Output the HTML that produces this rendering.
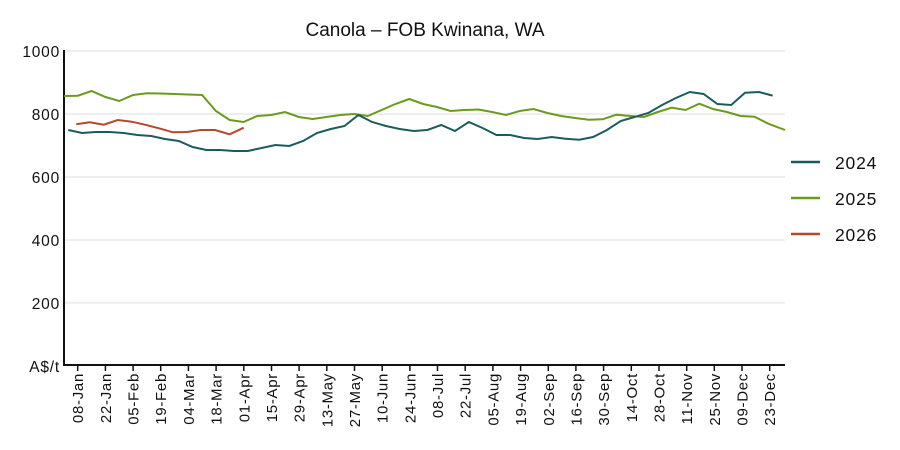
<!DOCTYPE html><html><head><meta charset="utf-8"><style>body{margin:0;background:#fff}svg{display:block;font-family:"Liberation Sans","DejaVu Sans",sans-serif}</style></head><body>
<svg width="900" height="450" viewBox="0 0 900 450" xmlns="http://www.w3.org/2000/svg">
<text x="425" y="36" font-size="19" text-anchor="middle" fill="#111">Canola – FOB Kwinana, WA</text>
<g stroke="#eee" stroke-width="2"><line x1="64" x2="785" y1="51" y2="51"/><line x1="64" x2="785" y1="114" y2="114"/><line x1="64" x2="785" y1="177" y2="177"/><line x1="64" x2="785" y1="240" y2="240"/><line x1="64" x2="785" y1="302.8" y2="302.8"/></g>
<g font-size="15.5" text-anchor="end" fill="#111" letter-spacing="0.8"><text x="60" y="57">1000</text><text x="60" y="120">800</text><text x="60" y="183">600</text><text x="60" y="246">400</text><text x="60" y="309">200</text><text x="60" y="372">A$/t</text></g>
<g stroke="#111" stroke-width="2" fill="none"><line x1="64" y1="50" x2="64" y2="366"/><line x1="63" y1="365" x2="785" y2="365"/></g>
<polyline fill="none" stroke="#6b9a1f" stroke-width="2" points="64,96 77.8,95.7 91.6,91 105.4,97 119.2,101 133.1,95 146.9,93.3 160.7,93.5 174.5,94 188.3,94.5 202.1,95 215.9,111 229.7,120 243.5,122 257.3,116 271.2,115 285,112 298.8,117 312.6,119 326.4,117 340.2,115 354,114 367.8,116 381.6,110 395.4,104 409.3,99 423.1,104 436.9,107 450.7,111 464.5,110 478.3,109.5 492.1,112 505.9,115 519.7,111 533.5,109 547.4,113 561.2,116 575,118 588.8,119.7 602.6,119.3 616.4,114.7 630.2,116 644,117 657.8,112 671.6,107.7 685.5,110 699.3,103.7 713.1,109 726.9,112 740.7,116 754.5,116.7 768.3,123.7 785,130"/>
<polyline fill="none" stroke="#1a5c5c" stroke-width="2" points="68.3,130 82.1,133 95.9,132 109.7,132 123.5,133 137.4,135 151.2,136 165,139 178.8,141 192.6,147 206.4,150 220.2,150 234,151 247.8,151 261.6,148 275.5,145 289.3,146 303.1,141 316.9,133 330.7,129 344.5,126 358.3,115 372.1,122 385.9,126 399.7,129 413.6,131 427.4,130 441.2,125 455,131 468.8,122 482.6,128 496.4,135 510.2,135 524,138 537.8,139 551.7,137 565.5,138.7 579.3,139.7 593.1,137 606.9,130 620.7,121 634.5,117 648.3,113 662.1,105 675.9,98 689.8,92 703.6,94 717.4,104 731.2,105 745,92.7 758.8,92 772.6,95.6"/>
<polyline fill="none" stroke="#b5482b" stroke-width="2" points="76.3,124.3 89.7,122.3 103.7,124.7 117.7,120 131.7,121.7 145,124.7 159,128.3 173,132.3 187,132 201,130 215,130 229.7,134.3 243.7,127.7"/>
<g stroke-width="2.5"><line x1="791" x2="820" y1="162" y2="162" stroke="#1a5c5c"/><line x1="791" x2="820" y1="198" y2="198" stroke="#6b9a1f"/><line x1="791" x2="820" y1="234" y2="234" stroke="#b5482b"/></g>
<g font-size="17.5" fill="#111" letter-spacing="0.8"><text x="835" y="169">2024</text><text x="835" y="205">2025</text><text x="835" y="241">2026</text></g>
<g stroke="#111" stroke-width="1.5">
<line x1="77.7" x2="77.7" y1="365" y2="371"/><line x1="105.4" x2="105.4" y1="365" y2="371"/><line x1="133.1" x2="133.1" y1="365" y2="371"/><line x1="160.7" x2="160.7" y1="365" y2="371"/><line x1="188.4" x2="188.4" y1="365" y2="371"/><line x1="216.1" x2="216.1" y1="365" y2="371"/><line x1="243.8" x2="243.8" y1="365" y2="371"/><line x1="271.5" x2="271.5" y1="365" y2="371"/><line x1="299.1" x2="299.1" y1="365" y2="371"/><line x1="326.8" x2="326.8" y1="365" y2="371"/><line x1="354.5" x2="354.5" y1="365" y2="371"/><line x1="382.2" x2="382.2" y1="365" y2="371"/><line x1="409.9" x2="409.9" y1="365" y2="371"/><line x1="437.5" x2="437.5" y1="365" y2="371"/><line x1="465.2" x2="465.2" y1="365" y2="371"/><line x1="492.9" x2="492.9" y1="365" y2="371"/><line x1="520.6" x2="520.6" y1="365" y2="371"/><line x1="548.3" x2="548.3" y1="365" y2="371"/><line x1="575.9" x2="575.9" y1="365" y2="371"/><line x1="603.6" x2="603.6" y1="365" y2="371"/><line x1="631.3" x2="631.3" y1="365" y2="371"/><line x1="659" x2="659" y1="365" y2="371"/><line x1="686.7" x2="686.7" y1="365" y2="371"/><line x1="714.3" x2="714.3" y1="365" y2="371"/><line x1="742" x2="742" y1="365" y2="371"/><line x1="769.7" x2="769.7" y1="365" y2="371"/>
</g>
<g font-size="15" fill="#111" text-anchor="end" letter-spacing="0.7">
<text transform="translate(83.2,373) rotate(-90)">08-Jan</text>
<text transform="translate(110.9,373) rotate(-90)">22-Jan</text>
<text transform="translate(138.6,373) rotate(-90)">05-Feb</text>
<text transform="translate(166.2,373) rotate(-90)">19-Feb</text>
<text transform="translate(193.9,373) rotate(-90)">04-Mar</text>
<text transform="translate(221.6,373) rotate(-90)">18-Mar</text>
<text transform="translate(249.3,373) rotate(-90)">01-Apr</text>
<text transform="translate(277,373) rotate(-90)">15-Apr</text>
<text transform="translate(304.6,373) rotate(-90)">29-Apr</text>
<text transform="translate(332.3,373) rotate(-90)">13-May</text>
<text transform="translate(360,373) rotate(-90)">27-May</text>
<text transform="translate(387.7,373) rotate(-90)">10-Jun</text>
<text transform="translate(415.4,373) rotate(-90)">24-Jun</text>
<text transform="translate(443,373) rotate(-90)">08-Jul</text>
<text transform="translate(470.7,373) rotate(-90)">22-Jul</text>
<text transform="translate(498.4,373) rotate(-90)">05-Aug</text>
<text transform="translate(526.1,373) rotate(-90)">19-Aug</text>
<text transform="translate(553.8,373) rotate(-90)">02-Sep</text>
<text transform="translate(581.4,373) rotate(-90)">16-Sep</text>
<text transform="translate(609.1,373) rotate(-90)">30-Sep</text>
<text transform="translate(636.8,373) rotate(-90)">14-Oct</text>
<text transform="translate(664.5,373) rotate(-90)">28-Oct</text>
<text transform="translate(692.2,373) rotate(-90)">11-Nov</text>
<text transform="translate(719.8,373) rotate(-90)">25-Nov</text>
<text transform="translate(747.5,373) rotate(-90)">09-Dec</text>
<text transform="translate(775.2,373) rotate(-90)">23-Dec</text>
</g>
</svg></body></html>
